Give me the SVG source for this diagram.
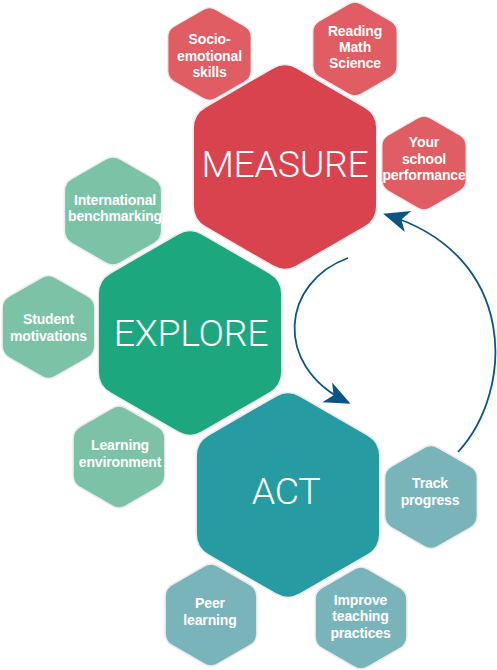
<svg xmlns="http://www.w3.org/2000/svg" xmlns:xlink="http://www.w3.org/1999/xlink" width="497" height="670" viewBox="0 0 497 670">
<style>
.hex{stroke:#ececec;stroke-width:1.5;vector-effect:non-scaling-stroke}
.big-red{fill:#D8434E}.sm-red{fill:#E05D63}
.big-green{fill:#1CA77F}.sm-green{fill:#7BC2A7}
.big-teal{fill:#269BA2}.sm-teal{fill:#7AB4BB}
.big{font-family:"Roboto","Liberation Sans",sans-serif;font-weight:300;font-size:37.5px;fill:#fff;text-anchor:middle;letter-spacing:-0.3px}
.sm{font-family:"Liberation Sans","Arial",sans-serif;font-weight:bold;font-size:14px;fill:#fff;text-anchor:middle;letter-spacing:-0.15px}
.conn{fill:none;stroke:#0B5585;stroke-width:1.8}
</style>
<defs>
<path id="bighex" d="M12.12,-99 L79.68,-60 Q91.8,-53 91.8,-39 L91.8,39 Q91.8,53 79.68,60 L12.12,99 Q0,106 -12.12,99 L-79.68,60 Q-91.8,53 -91.8,39 L-91.8,-39 Q-91.8,-53 -79.68,-60 L-12.12,-99 Q0,-106 12.12,-99 Z"/>
<path id="smhex" d="M6.93,-49 L38.97,-30.5 Q45.9,-26.5 45.9,-18.5 L45.9,18.5 Q45.9,26.5 38.97,30.5 L6.93,49 Q0,53 -6.93,49 L-38.97,30.5 Q-45.9,26.5 -45.9,18.5 L-45.9,-18.5 Q-45.9,-26.5 -38.97,-30.5 L-6.93,-49 Q0,-53 6.93,-49 Z"/>
<marker id="arrow" markerUnits="userSpaceOnUse" markerWidth="32" markerHeight="26" viewBox="-26 -13 32 26" refX="0" refY="0" orient="auto">
<path d="M4,0 L-22,-11 L-15,0 L-22,11 Z" fill="#0B5585"/>
</marker>
</defs>

<g id="measure">
<use xlink:href="#bighex" href="#bighex" class="hex big-red" transform="translate(285,167)"/>
<text class="big" x="285" y="177">MEASURE</text>
</g>
<g id="explore">
<use xlink:href="#bighex" href="#bighex" class="hex big-green" transform="translate(190,333)"/>
<text class="big" x="191" y="346">EXPLORE</text>
</g>
<g id="act">
<use xlink:href="#bighex" href="#bighex" class="hex big-teal" transform="translate(288,495)"/>
<text class="big" x="286" y="504">ACT</text>
</g>

<g id="socio">
<use xlink:href="#smhex" href="#smhex" class="hex sm-red" transform="translate(209.5,54) scale(0.91)"/>
<text class="sm" x="209.5" y="44">Socio-</text>
<text class="sm" x="209.5" y="61">emotional</text>
<text class="sm" x="209.5" y="77">skills</text>
</g>
<g id="reading">
<use xlink:href="#smhex" href="#smhex" class="hex sm-red" transform="translate(355,49) scale(0.92)"/>
<text class="sm" x="355" y="36">Reading</text>
<text class="sm" x="355" y="52">Math</text>
<text class="sm" x="355" y="68">Science</text>
</g>
<g id="school">
<use xlink:href="#smhex" href="#smhex" class="hex sm-red" transform="translate(424,163) scale(0.92)"/>
<text class="sm" x="424" y="147">Your</text>
<text class="sm" x="424" y="164">school</text>
<text class="sm" x="424" y="180">performance</text>
</g>

<g id="international">
<use xlink:href="#smhex" href="#smhex" class="hex sm-green" transform="translate(113,211) scale(1.06)"/>
<text class="sm" x="115" y="205">International</text>
<text class="sm" x="115" y="221">benchmarking</text>
</g>
<g id="student">
<use xlink:href="#smhex" href="#smhex" class="hex sm-green" transform="translate(48.5,327) scale(1.01)"/>
<text class="sm" x="48.5" y="324">Student</text>
<text class="sm" x="48.5" y="341">motivations</text>
</g>
<g id="learning">
<use xlink:href="#smhex" href="#smhex" class="hex sm-green" transform="translate(119,457)"/>
<text class="sm" x="120" y="450">Learning</text>
<text class="sm" x="120" y="467">environment</text>
</g>

<g id="track">
<use xlink:href="#smhex" href="#smhex" class="hex sm-teal" transform="translate(431,497) scale(1.01)"/>
<text class="sm" x="430" y="488">Track</text>
<text class="sm" x="430" y="505">progress</text>
</g>
<g id="peer">
<use xlink:href="#smhex" href="#smhex" class="hex sm-teal" transform="translate(211,615)"/>
<text class="sm" x="210" y="608">Peer</text>
<text class="sm" x="210" y="625">learning</text>
</g>
<g id="improve">
<use xlink:href="#smhex" href="#smhex" class="hex sm-teal" transform="translate(361,618)"/>
<text class="sm" x="360.5" y="605">Improve</text>
<text class="sm" x="360.5" y="621">teaching</text>
<text class="sm" x="360.5" y="638">practices</text>
</g>

<g id="connectors">
<path class="conn" d="M348,258 C282,282 272,365 347,402" marker-end="url(#arrow)"/>
<path class="conn" d="M458,452 C515,390 518,255 387,215" marker-end="url(#arrow)"/>
</g>
</svg>
